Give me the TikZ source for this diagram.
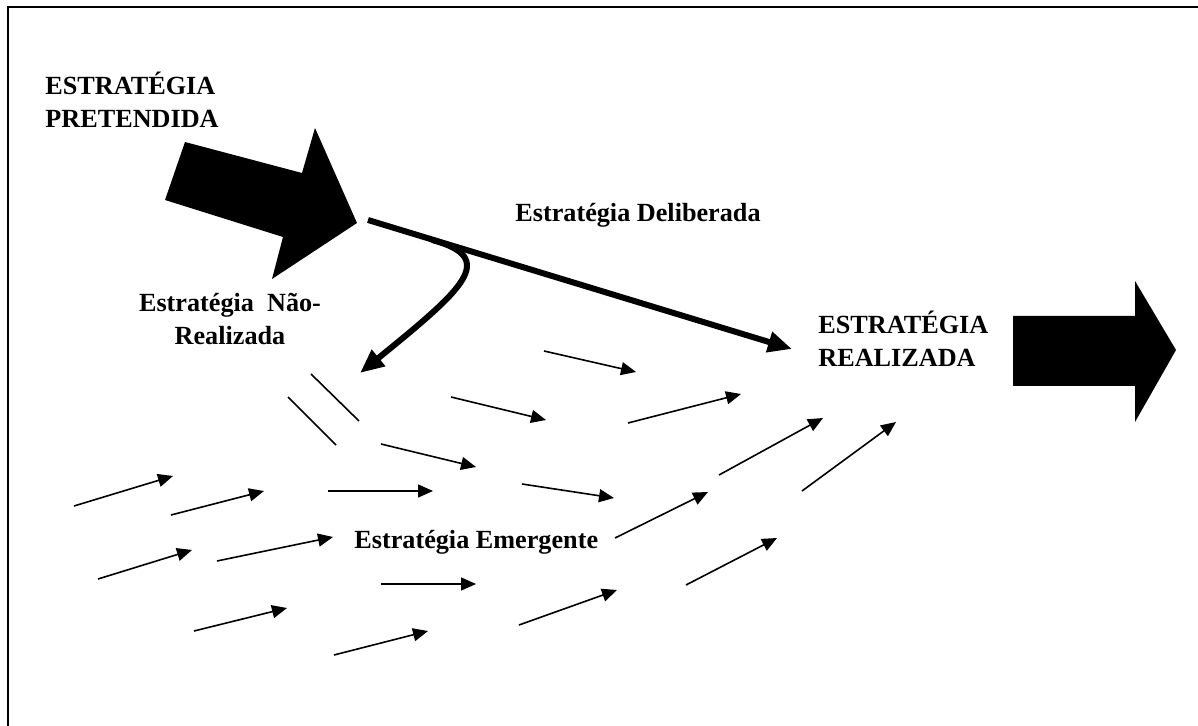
\documentclass[tikz,border=0pt]{standalone}
\usepackage{fontspec}
\setmainfont{Liberation Serif}
\usetikzlibrary{arrows.meta}
\begin{document}
\begin{tikzpicture}[x=0.5pt,y=-0.5pt,
  lbl/.style={font=\bfseries\fontsize{13.1}{16.5}\selectfont, inner sep=0pt},
  thinarrow/.style={line width=0.8pt, -{Triangle[length=7.5pt,width=6.5pt]}},
  thickarrow/.style={line width=3pt, -{Triangle[length=12pt,width=10pt]}},
  plainline/.style={line width=0.8pt},
  frame/.style={line width=1pt}]
\useasboundingbox (0,0) rectangle (1198,726);

% outer frame (runs past the right and bottom edges)
\draw[frame] (8,760) -- (8,7) -- (1230,7);

% intended strategy: large block arrow
\fill (185,142) -- (302,173) -- (315,128) -- (357,223) -- (272,279)
      -- (283,237) -- (165,200) -- cycle;

% realized strategy: large block arrow
\fill (1013,316) -- (1135,316) -- (1135,281) -- (1176,350) -- (1135,422)
      -- (1135,386) -- (1013,386) -- cycle;

% labels (base anchor = baseline of the last line)
\node[lbl, anchor=base west, align=left] (pret) at (45,128) {ESTRATÉGIA\\PRETENDIDA};
\node[lbl, anchor=base] (delib) at (638,222) {Estratégia Deliberada};
\node[lbl, anchor=base, align=center] (naoreal) at (230,345) {Estratégia\ \ Não-\\Realizada};
\node[lbl, anchor=base west, align=left] (real) at (818,367) {ESTRATÉGIA\\REALIZADA};
\node[lbl, anchor=base west] (emerg) at (354,548) {Estratégia Emergente};

% deliberate strategy
\coordinate (dstart) at (368,220);
\coordinate (dend) at (792,349);
\draw[thickarrow] (dstart) -- (dend);

% unrealized branch
\coordinate (bstart) at (432,240);
\coordinate (bend) at (360,373);
\draw[thickarrow] (bstart) .. controls (500,258) and (462,290) .. (bend);

% two plain strokes
\coordinate (p1s) at (311,374); \coordinate (p1t) at (359,421);
\coordinate (p2s) at (288,397); \coordinate (p2t) at (336,445);
\draw[plainline] (p1s) -- (p1t);
\draw[plainline] (p2s) -- (p2t);

% emergent strategy: scattered small arrows
\foreach \sx/\sy/\tx/\ty [count=\i] in {
  74/506/173/476, 171/515/264/491, 98/579/192/550, 217/561/333/537,
  194/631/287/608, 334/655/428/631,
  544/351/636/372, 451/397/546/420, 381/444/476/467, 328/491/433/491,
  522/484/614/498, 381/584/476/584, 519/625/617/590,
  628/423/741/394, 615/538/708/492, 686/585/777/538, 719/475/823/418,
  802/491/896/422} {
  \coordinate (e\i-s) at (\sx,\sy);
  \coordinate (e\i-t) at (\tx,\ty);
  \draw[thinarrow] (e\i-s) -- (e\i-t);
}
\end{tikzpicture}
\end{document}
